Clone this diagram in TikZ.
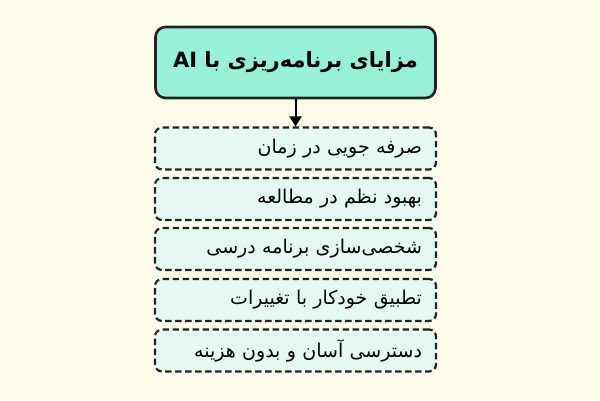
\documentclass[tikz,border=0pt]{standalone}
\usepackage{fontspec}
\usetikzlibrary{arrows.meta}
\TeXXeTstate=1
\newfontfamily\arabicfont[Script=Arabic]{DejaVu Sans}
\definecolor{bgcream}{HTML}{FEFCEB}
\definecolor{titlefill}{HTML}{98F0D8}
\definecolor{itemfill}{HTML}{E5F9F3}
\definecolor{edgedark}{HTML}{222222}
\tikzset{
  titlebox/.style={draw=edgedark, line width=2.6pt, fill=titlefill, rounded corners=10pt,
    minimum width=280pt, minimum height=71pt, inner sep=0pt,
    font=\arabicfont\bfseries\fontsize{21}{26}\selectfont},
  itembox/.style={draw=edgedark, line width=2.2pt, dash pattern=on 6.5pt off 3.5pt,
    fill=itemfill, rounded corners=7pt, minimum height=42pt,
    text width=253pt, inner xsep=14pt, inner ysep=0pt, align=right,
    font=\arabicfont\fontsize{19}{23}\selectfont},
  conn/.style={draw=black, line width=2pt, -{Triangle[length=10pt,width=12pt]}}
}
\begin{document}
\begin{tikzpicture}[x=1pt,y=-1pt]
\fill[bgcream] (0,0) rectangle (600,400);
\useasboundingbox (0,0) rectangle (600,400);
\node[titlebox] (title) at (295.5,62.5) {\beginR مزایای برنامه‌ریزی با \beginL AI\endL\endR};
\node[itembox] (i1) at (295.5,148.5) {\beginR صرفه جویی در زمان\endR};
\node[itembox] (i2) at (295.5,199) {\beginR بهبود نظم در مطالعه\endR};
\node[itembox] (i3) at (295.5,249) {\beginR شخصی‌سازی برنامه درسی\endR};
\node[itembox] (i4) at (295.5,300) {\beginR تطبیق خودکار با تغییرات\endR};
\node[itembox] (i5) at (295.5,350.5) {\beginR دسترسی آسان و بدون هزینه\endR};
\draw[conn] (title.south) -- (i1.north);
\end{tikzpicture}
\end{document}
